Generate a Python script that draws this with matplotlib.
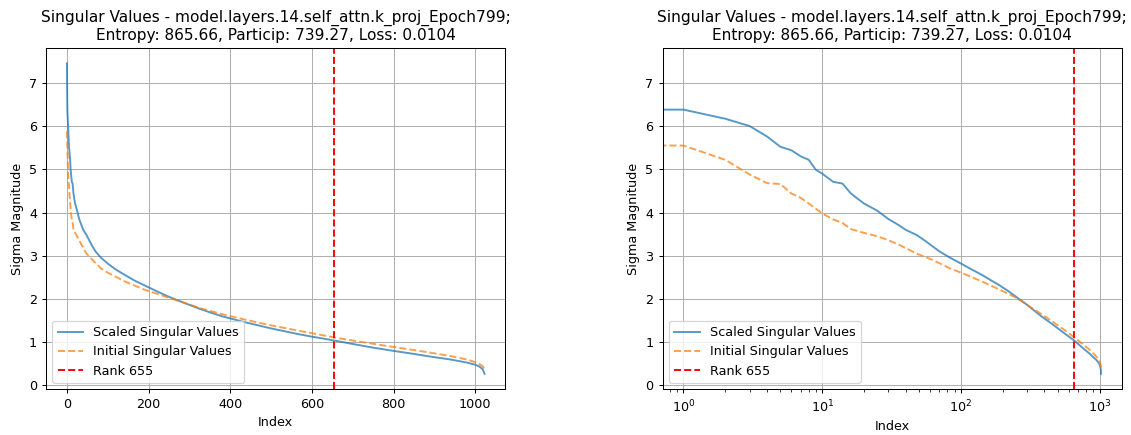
import matplotlib
matplotlib.use("Agg")
import matplotlib.pyplot as plt
import numpy as np

# values (index -> sigma)
scaled_idx = [0, 1, 2, 3, 4, 5, 6, 7, 8, 9, 10, 12, 14, 16, 18, 20, 25, 30, 36, 40,
              48, 55, 63, 70, 83, 100, 120, 143, 165, 189, 220, 250, 290, 329, 380,
              433, 500, 571, 600, 655, 700, 753, 800, 850, 889, 940, 980, 1000,
              1010, 1018, 1023]
scaled_vals = [7.45, 6.38, 6.17, 6.00, 5.76, 5.52, 5.44, 5.30, 5.22, 4.99, 4.90, 4.71,
               4.67, 4.45, 4.32, 4.21, 4.04, 3.85, 3.70, 3.60, 3.48, 3.35, 3.21, 3.10,
               2.96, 2.82, 2.68, 2.55, 2.43, 2.32, 2.18, 2.05, 1.90, 1.76, 1.60, 1.47,
               1.32, 1.18, 1.13, 1.04, 0.96, 0.87, 0.80, 0.73, 0.67, 0.60, 0.53, 0.48,
               0.44, 0.38, 0.27]

initial_idx = [0, 1, 2, 3, 4, 5, 6, 7, 8, 10, 12, 14, 16, 20, 25, 30, 36, 48, 63, 83,
               100, 143, 189, 250, 329, 380, 433, 500, 571, 600, 655, 700, 753, 800,
               850, 889, 940, 980, 1000, 1010, 1018, 1023]
initial_vals = [5.88, 5.55, 5.22, 4.88, 4.68, 4.66, 4.44, 4.34, 4.21, 3.98, 3.84, 3.76,
                3.62, 3.53, 3.45, 3.36, 3.25, 3.05, 2.90, 2.71, 2.61, 2.40, 2.22, 2.03,
                1.78, 1.65, 1.53, 1.39, 1.26, 1.21, 1.11, 1.04, 0.96, 0.89, 0.82, 0.76,
                0.68, 0.60, 0.54, 0.50, 0.45, 0.37]

rank = 655
title = ("Singular Values - model.layers.14.self_attn.k_proj_Epoch799;\n"
         "Entropy: 865.66, Particip: 739.27, Loss: 0.0104")

DPI = 92
fig, axes = plt.subplots(1, 2, figsize=(1131 / DPI, 435 / DPI), dpi=DPI)
fig.subplots_adjust(left=0.0407, right=0.992, bottom=0.105, top=0.89, wspace=0.342)

for i, ax in enumerate(axes):
    ax.plot(scaled_idx, scaled_vals, label="Scaled Singular Values", alpha=0.75)
    ax.plot(initial_idx, initial_vals, "--", label="Initial Singular Values", alpha=0.75)
    ax.axvline(rank, color="red", linestyle="--", label=f"Rank {rank}")
    if i == 1:
        ax.set_xscale("log")
    ax.set_title(title, fontsize=12)
    ax.set_xlabel("Index")
    ax.set_ylabel("Sigma Magnitude")
    ax.grid(True)
    ax.legend(loc="lower left")

fig.savefig("out.png", dpi=DPI)
